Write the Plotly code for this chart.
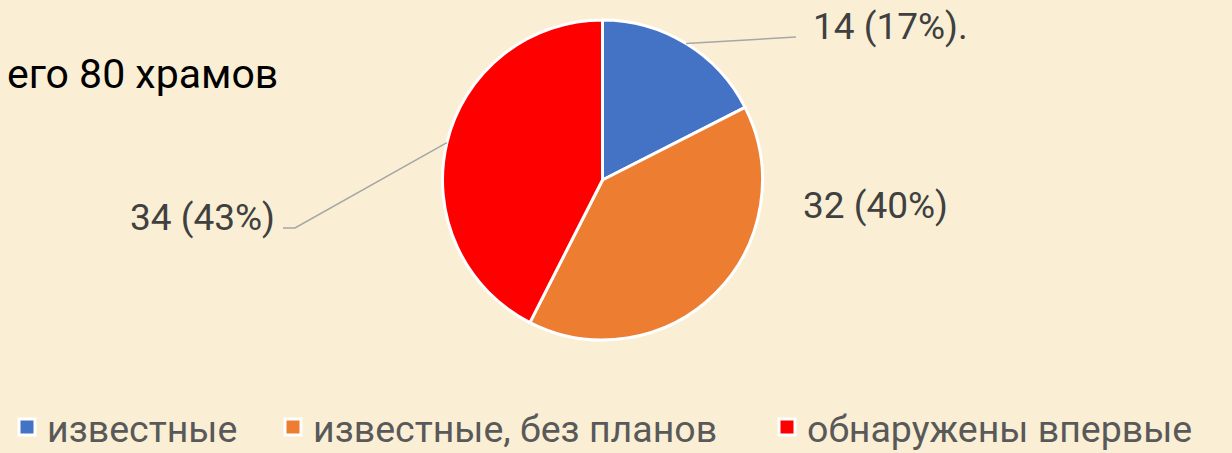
import math
import plotly.graph_objects as go

categories = ["известные", "известные, без планов", "обнаружены впервые"]
values = [14, 32, 34]
label_texts = ["14 (17%).", "32 (40%)", "34 (43%)"]
colors = ["#4472C4", "#ED7D31", "#FF0000"]
title_text = "его 80 храмов"

W, H = 1232, 453
cx, cy, R = 602.5, 180.0, 160.0  # pie centre / radius in pixels (y from top)
FONT = "Roboto"
BG = "#FAEFD4"


def px(x):
    return x / W


def py(y):
    return 1 - y / H


fig = go.Figure(go.Pie(
    labels=categories,
    values=values,
    sort=False,
    direction="clockwise",
    rotation=0,
    textinfo="none",
    hoverinfo="label+value+percent",
    showlegend=False,
    marker=dict(colors=colors, line=dict(color="white", width=3)),
    domain=dict(x=[px(cx - R), px(cx + R)], y=[py(cy + R), py(cy - R)]),
))

# legend entries (one legend per entry so they can be spaced like the original)
legend_ids = ["legend", "legend2", "legend3"]
legend_x = [7, 273, 767]
for cat, col, lid in zip(categories, colors, legend_ids):
    fig.add_trace(go.Scatter(
        x=[None], y=[None], mode="markers", name=cat, legend=lid,
        marker=dict(symbol="square", size=16, color=col,
                    line=dict(color="white", width=3)),
        hoverinfo="skip",
    ))

legend_font = dict(family=FONT, size=37.5, color="#595959")
legend_common = dict(orientation="h", xanchor="left", y=py(427), yanchor="middle",
                     font=legend_font, bgcolor="rgba(0,0,0,0)", itemclick=False,
                     itemdoubleclick=False)

# mid-angle edge points of slices computed from the data
total = sum(values)
cum = 0
edge = []
for v in values:
    mid = (cum + v / 2) / total * 2 * math.pi
    edge.append((cx + R * math.sin(mid), cy - R * math.cos(mid)))
    cum += v

shapes = [
    dict(type="path", xref="paper", yref="paper",
         path=f"M {px(edge[0][0])} {py(edge[0][1])} L {px(796)} {py(37)}",
         line=dict(color="#A6A6A6", width=1.5)),
    dict(type="path", xref="paper", yref="paper",
         path=f"M {px(edge[2][0])} {py(edge[2][1])} L {px(295)} {py(228)} L {px(283)} {py(228)}",
         line=dict(color="#A6A6A6", width=1.5)),
]

label_font = dict(family=FONT, size=37, color="#404040")
annotations = [
    dict(text=label_texts[0], x=px(811), y=py(27), xref="paper", yref="paper",
         xanchor="left", yanchor="middle", showarrow=False, font=label_font),
    dict(text=label_texts[1], x=px(801), y=py(205), xref="paper", yref="paper",
         xanchor="left", yanchor="middle", showarrow=False, font=label_font),
    dict(text=label_texts[2], x=px(277), y=py(217), xref="paper", yref="paper",
         xanchor="right", yanchor="middle", showarrow=False, font=label_font),
    dict(text=title_text, x=px(280), y=py(74), xref="paper", yref="paper",
         xanchor="right", yanchor="middle", showarrow=False,
         font=dict(family=FONT, size=41, color="#000000")),
]

fig.update_layout(
    width=W, height=H,
    margin=dict(l=0, r=0, t=0, b=0, autoexpand=False),
    paper_bgcolor=BG, plot_bgcolor=BG,
    xaxis=dict(visible=False), yaxis=dict(visible=False),
    legend=dict(x=px(legend_x[0]), **legend_common),
    legend2=dict(x=px(legend_x[1]), **legend_common),
    legend3=dict(x=px(legend_x[2]), **legend_common),
    shapes=shapes,
    annotations=annotations,
)

fig.write_html("out.html",
               config={"displayModeBar": False},
               post_script="document.body.style.margin='0';document.body.style.overflow='hidden';")
